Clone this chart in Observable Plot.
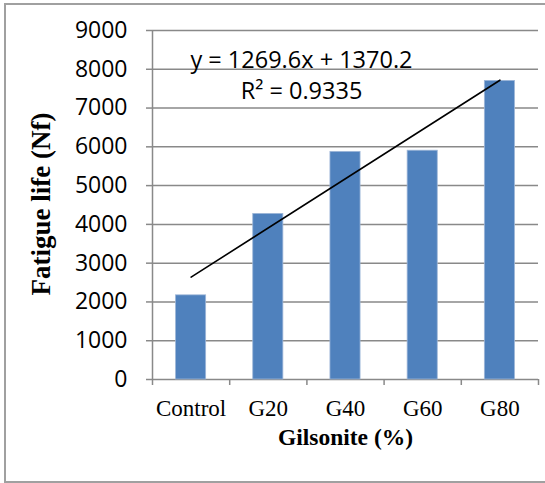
<!DOCTYPE html>
<html>
<head>
<meta charset="utf-8">
<script src="https://cdn.jsdelivr.net/npm/d3@7"></script>
<script src="https://cdn.jsdelivr.net/npm/@observablehq/plot@0.6"></script>
<style>
  html, body { margin: 0; padding: 0; background: #fff; }
  #wrap { position: relative; width: 545px; height: 483px; overflow: hidden; }
  #border { position: absolute; left: 4px; top: 3px; width: 600px; height: 476px; border: 2px solid #a0a0a0; pointer-events: none; }
</style>
</head>
<body>
<div id="wrap"><div id="border"></div></div>
<script>
const categories = ["Control", "G20", "G40", "G60", "G80"];
const fatigueLife = [2170, 4270, 5870, 5900, 7700];
const yTicks = [0, 1000, 2000, 3000, 4000, 5000, 6000, 7000, 8000, 9000];
const trendSlope = 1269.6;
const trendIntercept = 1370.2;
const trendLabel = "y = 1269.6x + 1370.2";
const r2Label = "R² = 0.9335";
const xTitle = "Gilsonite (%)";
const yTitle = "Fatigue life (Nf)";

const idx = categories.map((c, i) => i + 1);
const bars = categories.map((c, i) => ({cat: c, x: i + 1, y: fatigueLife[i]}));
const boundaries = [0.5, ...idx.map(i => i + 0.5)];
const trend = [idx[0], idx[idx.length - 1]].map(x => ({x, y: trendSlope * x + trendIntercept}));
const barHalf = 0.195;

const grid = "#898989";
const sans = "'Open Sans', sans-serif";
const serif = "'Liberation Serif', 'Times New Roman', serif";

const chart = Plot.plot({
  width: 545,
  height: 483,
  marginLeft: 152,
  marginRight: 7,
  marginTop: 30,
  marginBottom: 104,
  style: {background: "transparent", overflow: "visible"},
  x: {type: "linear", domain: [0.5, 5.5], axis: null},
  y: {domain: [0, 9000], axis: null},
  marks: [
    Plot.ruleY(yTicks, {stroke: grid, strokeWidth: 1.5}),
    Plot.ruleX([0.5], {stroke: grid, strokeWidth: 1.5}),
    Plot.axisY(yTicks, {anchor: "left", tickSize: 6, tickPadding: 19, stroke: grid, strokeWidth: 1.5,
      fontSize: 23, fontFamily: sans, fill: "#000", tickFormat: d => String(d), label: null}),
    Plot.rectY(bars, {x1: d => d.x - barHalf, x2: d => d.x + barHalf, y: "y", fill: "#4f81bd", stroke: "#9db6d8", strokeWidth: 0.8}),
    Plot.axisX(boundaries, {anchor: "bottom", tickSize: 6, stroke: grid, strokeWidth: 1.5, tickFormat: () => "", label: null}),
    Plot.axisX(idx, {anchor: "bottom", tickSize: 0, tickPadding: 20, tickFormat: i => categories[i - 1],
      fontSize: 23, fontFamily: serif, fill: "#000", label: null}),
    Plot.line(trend, {x: "x", y: "y", stroke: "#000", strokeWidth: 1.6}),
    Plot.text([trendLabel], {x: 2.43, y: 8240, text: d => d, fontSize: 23.5, fontFamily: sans, fill: "#000"}),
    Plot.text([r2Label], {x: 2.43, y: 7440, text: d => d, fontSize: 23.5, fontFamily: sans, fill: "#000"}),
    Plot.text([xTitle], {frameAnchor: "bottom", dy: 65, text: d => d, fontSize: 23.5, fontWeight: "bold", fontFamily: serif, fill: "#000"}),
    Plot.text([yTitle], {frameAnchor: "left", textAnchor: "middle", dx: -111, dy: -1, rotate: -90, text: d => d, fontSize: 27, fontWeight: "bold", fontFamily: serif, fill: "#000"})
  ]
});
document.getElementById("wrap").prepend(chart);
</script>
</body>
</html>
